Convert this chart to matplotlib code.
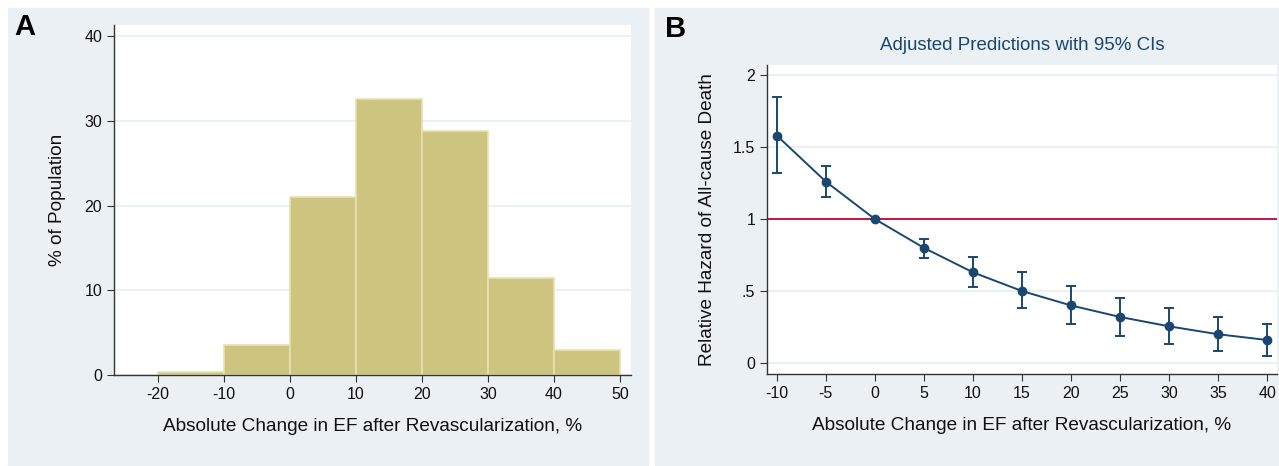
import numpy as np
import matplotlib
matplotlib.use("Agg")
import matplotlib.pyplot as plt
from matplotlib.patches import Rectangle

plt.rcParams['font.family'] = ['Liberation Sans', 'DejaVu Sans']
plt.rcParams['axes.unicode_minus'] = False

# Panel A: histogram of EF change
bin_edges = [-20, -10, 0, 10, 20, 30, 40, 50]
pct_population = [0.4, 3.5, 21.0, 32.6, 28.8, 11.5, 3.0]

# Panel B: adjusted predictions with 95% CIs
ef_change = [-10, -5, 0, 5, 10, 15, 20, 25, 30, 35, 40]
hazard = [1.58, 1.26, 1.0, 0.80, 0.63, 0.50, 0.40, 0.32, 0.255, 0.20, 0.16]
ci_low = [1.32, 1.155, 1.0, 0.73, 0.525, 0.38, 0.27, 0.19, 0.13, 0.085, 0.05]
ci_high = [1.85, 1.37, 1.0, 0.865, 0.74, 0.63, 0.535, 0.45, 0.38, 0.32, 0.27]

W, H = 1279, 466
BG = '#EAF0F3'
GRID = '#E6EEF1'
NAVY = '#1A476F'
BAR = '#CCC47F'
LABEL_FS = 13.7


def px_axes(fig, x0, y0, x1, y1):
    # pixel box (top-left origin) -> figure fraction
    return fig.add_axes([x0 / W, 1 - y1 / H, (x1 - x0) / W, (y1 - y0) / H])


def style(ax):
    for s in ['top', 'right']:
        ax.spines[s].set_visible(False)
    for s in ['left', 'bottom']:
        ax.spines[s].set_color('#333333')
        ax.spines[s].set_linewidth(1.0)
    ax.tick_params(direction='out', length=5, width=0.8, color='#333333',
                   labelsize=11.5, labelcolor='#111111')
    ax.set_axisbelow(True)


fig = plt.figure(figsize=(W / 100, H / 100), dpi=100)
for x0, x1 in [(8, 648), (655, 1279)]:
    fig.add_artist(Rectangle((x0 / W, 1 - 465 / H), (x1 - x0) / W, (465 - 8) / H,
                             transform=fig.transFigure, color=BG, zorder=-5))

# ---- Panel A
ax1 = px_axes(fig, 114, 25, 631, 375)
ax1.bar(bin_edges[:-1], pct_population, width=10, align='edge',
        color=BAR, edgecolor='#E8E2B0', linewidth=1.2)
ax1.set_xlim(-26.7, 51.7)
ax1.set_ylim(0, 41.3)
ax1.set_xticks(bin_edges)
ax1.set_yticks([0, 10, 20, 30, 40])
ax1.grid(axis='y', color=GRID, linewidth=1.2)
style(ax1)
ax1.set_xlabel('Absolute Change in EF after Revascularization, %', fontsize=LABEL_FS,
               labelpad=12, color='#111111')
ax1.set_ylabel('% of Population', fontsize=LABEL_FS, labelpad=13, color='#111111')
fig.text(25 / W, 1 - 27 / H, 'A', fontsize=21, fontweight='bold', ha='center', va='center')

# ---- Panel B
ax2 = px_axes(fig, 767, 65, 1277, 374)
hz = np.array(hazard)
yerr = [hz - np.array(ci_low), np.array(ci_high) - hz]
ax2.axhline(1, color='#C10534', linewidth=1.3, zorder=2)
ax2.errorbar(ef_change, hazard, yerr=yerr, color=NAVY, linewidth=1.4,
             elinewidth=1.4, capsize=3.5, capthick=1.4, marker='o', markersize=6,
             zorder=3)
ax2.set_xlim(-11.0, 41.0)
ax2.set_ylim(-0.076, 2.07)
ax2.set_xticks(ef_change)
ax2.set_yticks([0, 0.5, 1, 1.5, 2])
ax2.set_yticklabels(['0', '.5', '1', '1.5', '2'])
ax2.grid(axis='y', color=GRID, linewidth=1.2)
style(ax2)
ax2.set_xlabel('Absolute Change in EF after Revascularization, %', fontsize=LABEL_FS,
               labelpad=12, color='#111111')
ax2.set_ylabel('Relative Hazard of All-cause Death', fontsize=LABEL_FS, labelpad=12,
               color='#111111')
ax2.set_title('Adjusted Predictions with 95% CIs', fontsize=13.5, color=NAVY, pad=11)
fig.text(676 / W, 1 - 29 / H, 'B', fontsize=21, fontweight='bold', ha='center', va='center')

fig.savefig('out.png', dpi=100)
